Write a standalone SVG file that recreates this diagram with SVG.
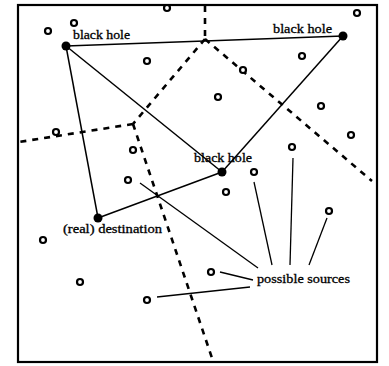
<svg xmlns="http://www.w3.org/2000/svg" width="389" height="366" viewBox="0 0 389 366">
  <style>
    .frame { fill: none; stroke: #000; stroke-width: 2.2; }
    .edge { fill: none; stroke: #000; stroke-width: 1.5; }
    .cell { fill: none; stroke: #000; stroke-width: 2.6; stroke-dasharray: 6 6; }
    .ptr { fill: none; stroke: #000; stroke-width: 1.3; }
    .src { fill: #fff; stroke: #000; stroke-width: 2.2; }
    .hole { fill: #000; }
    .lbl { font-family: "Liberation Serif", "Times New Roman", serif; font-size: 12.5px; fill: #000; stroke: #000; stroke-width: 0.3; }
  </style>

  <rect class="frame" x="18" y="5" width="359" height="357"/>

  <!-- region boundaries (dashed) -->
  <g id="boundaries">
    <line class="cell" x1="205" y1="6" x2="205" y2="39"/>
    <line class="cell" x1="205" y1="39" x2="372" y2="181"/>
    <line class="cell" x1="205" y1="39" x2="133" y2="124"/>
    <line class="cell" x1="133" y1="124" x2="19" y2="142"/>
    <line class="cell" x1="133" y1="124" x2="213" y2="361"/>
  </g>

  <!-- links between holes and destination -->
  <g id="connectors">
    <line class="edge" x1="66" y1="46" x2="343" y2="36"/>
    <line class="edge" x1="66" y1="46" x2="98" y2="218"/>
    <line class="edge" x1="66" y1="46" x2="222" y2="172"/>
    <line class="edge" x1="343" y1="36" x2="222" y2="172"/>
    <line class="edge" x1="222" y1="172" x2="98" y2="218"/>
    <!-- pointers from the "possible sources" label -->
    <line class="ptr" x1="140" y1="183" x2="258" y2="268"/>
    <line class="ptr" x1="254" y1="182" x2="272" y2="265"/>
    <line class="ptr" x1="293" y1="158" x2="290" y2="265"/>
    <line class="ptr" x1="327" y1="218" x2="309" y2="265"/>
    <line class="ptr" x1="220" y1="272" x2="253" y2="280"/>
    <line class="ptr" x1="157" y1="297" x2="250" y2="287"/>
  </g>

  <g id="hole-nw">
    <circle class="hole" cx="66" cy="46" r="4.5"/>
    <text class="lbl" x="73" y="39" textLength="57" lengthAdjust="spacingAndGlyphs">black hole</text>
  </g>
  <g id="hole-ne">
    <circle class="hole" cx="343" cy="36" r="4.5"/>
    <text class="lbl" x="273" y="33" textLength="59" lengthAdjust="spacingAndGlyphs">black hole</text>
  </g>
  <g id="hole-center">
    <circle class="hole" cx="222" cy="172" r="4.5"/>
    <text class="lbl" x="194" y="162" textLength="58" lengthAdjust="spacingAndGlyphs">black hole</text>
  </g>
  <g id="destination">
    <circle class="hole" cx="98" cy="218" r="4.5"/>
    <text class="lbl" x="63" y="233" textLength="99" lengthAdjust="spacingAndGlyphs">(real) destination</text>
  </g>
  <g id="sources-label">
    <text class="lbl" x="257" y="283" textLength="93" lengthAdjust="spacingAndGlyphs">possible sources</text>
  </g>

  <g id="sources">
    <circle class="src" cx="48" cy="31" r="3"/>
    <circle class="src" cx="74" cy="23" r="3"/>
    <circle class="src" cx="167" cy="8" r="3"/>
    <circle class="src" cx="147" cy="61" r="3"/>
    <circle class="src" cx="357" cy="13" r="3"/>
    <circle class="src" cx="302" cy="56" r="3"/>
    <circle class="src" cx="243" cy="70" r="3"/>
    <circle class="src" cx="218" cy="97" r="3"/>
    <circle class="src" cx="321" cy="106" r="3"/>
    <circle class="src" cx="351" cy="135" r="3"/>
    <circle class="src" cx="292" cy="147" r="3"/>
    <circle class="src" cx="254" cy="172" r="3"/>
    <circle class="src" cx="226" cy="192" r="3"/>
    <circle class="src" cx="329" cy="211" r="3"/>
    <circle class="src" cx="56" cy="132" r="3"/>
    <circle class="src" cx="133" cy="150" r="3"/>
    <circle class="src" cx="128" cy="180" r="3"/>
    <circle class="src" cx="43" cy="240" r="3"/>
    <circle class="src" cx="80" cy="282" r="3"/>
    <circle class="src" cx="147" cy="300" r="3"/>
    <circle class="src" cx="211" cy="272" r="3"/>
  </g>
</svg>
